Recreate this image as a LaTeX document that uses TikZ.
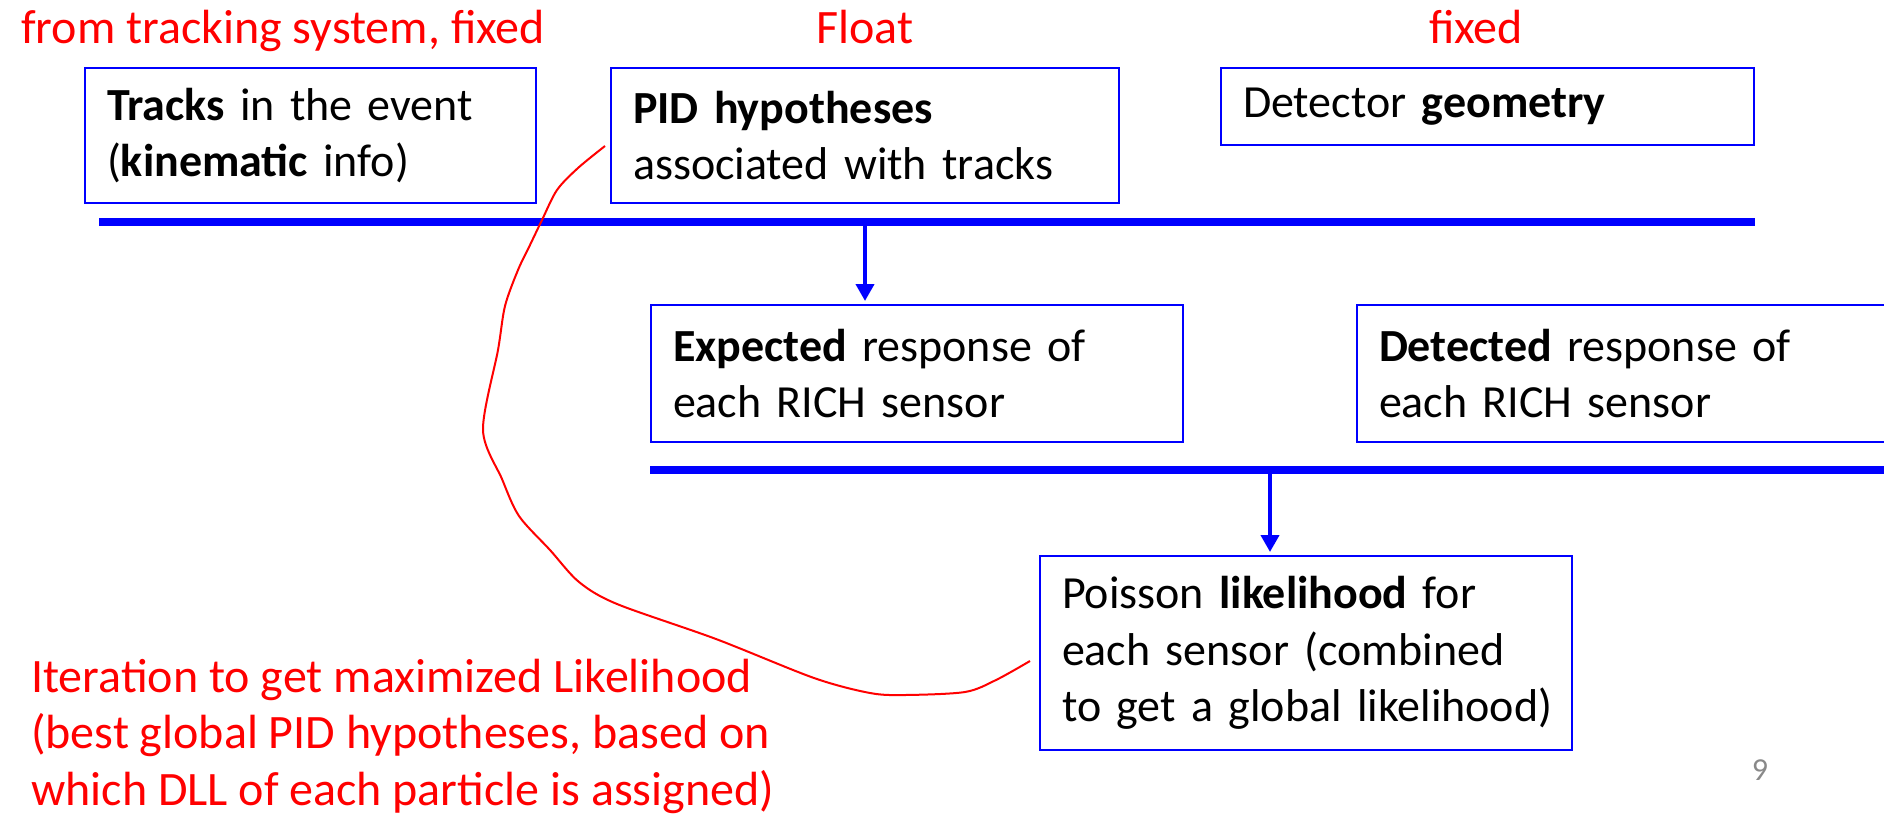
\documentclass[tikz,border=0pt]{standalone}
\usepackage{fontspec}
\setmainfont{Carlito}
\usetikzlibrary{calc,arrows.meta}
\newcommand{\Gap}{22pt}
\definecolor{PageGray}{RGB}{137,137,137}
\tikzset{Box/.style 2 args={
    anchor=north west,
    inner xsep=\Gap,
    inner ysep=0pt,
    text width=#1-2*\Gap,
    minimum height=#2,
    line width=2pt,
    draw=blue,
    align=left
    },
    Note/.style={inner sep=0pt, text=red, align=left, font={\fontsize{48pt}{56.5pt}\selectfont}},
    Bus/.style={line width=8pt, draw=blue},
    Flow/.style={line width=4pt, draw=blue, -{Triangle[width=18pt,length=17pt]}, shorten >=3pt},
    Loop/.style={line width=2pt, draw=red},
    font={\fontsize{46pt}{56.7pt}\selectfont}
}

\begin{document}
\begin{tikzpicture}[x=1pt, y=-1pt]
\clip (0,0) rectangle (1884,817);
\node [Note, anchor=base west] (From) at (21,43) {from tracking system, fixed};
\node [Note, anchor=base] (Float) at (865,43) {Float};
\node [Note, anchor=base] (Fixed) at (1476,43) {fixed};
\node [Box={451pt}{135pt}] (Tracks) at (84,67) {\textbf{Tracks} in the event\\(\textbf{kinematic} info)};
\node [Box={508pt}{135pt}] (PID) at (610,67) {\textbf{PID hypotheses}\\associated with tracks};
\node [Box={533pt}{77pt}] (Geometry) at (1220,67) {Detector \textbf{geometry}};
\node [Box={532pt}{137pt}] (Expected) at (650,304) {\textbf{Expected} response of\\each RICH sensor};
\node [Box={532pt}{137pt}] (Detected) at (1356,304) {\textbf{Detected} response of\\each RICH sensor};
\node [Box={532pt}{194pt}] (Poisson) at (1039,555) {Poisson \textbf{likelihood} for\\each sensor (combined\\\mbox{to get a global likelihood)}};
\node [Note, anchor=west] (Iteration) at (31,736) {Iteration to get maximized Likelihood\\(best global PID hypotheses, based on\\which DLL of each particle is assigned)};
\node [text=PageGray, inner sep=0pt, anchor=base, font={\fontsize{32pt}{38pt}\selectfont}] (Page) at (1760,780) {9};
\coordinate (BusAW) at (99,222);
\coordinate (BusAE) at (Geometry.east |- BusAW);
\coordinate (BusBW) at (Expected.west |- 0,470);
\coordinate (BusBE) at (1900,470);
\coordinate (BusBMid) at (1270,470);
\coordinate (LoopStart) at (605,146);
\coordinate (LoopEnd) at (1030,661);
\draw [Bus] (BusAW) -- (BusAE);
\draw [Bus] (BusBW) -- (BusBE);
\draw [Flow] (PID.south |- BusAW) -- (PID.south |- Expected.north);
\draw [Flow] (BusBMid) -- (BusBMid |- Poisson.north);
\draw [Loop] plot [smooth, tension=0.5] coordinates {(LoopStart) (578,168) (557,190) (542,220) (530,245) (518,270) (505,306) (498,350) (483,430) (502,479) (519,516) (550,550) (579,582) (617,604) (716,639) (814,678) (870,693) (905,695) (965,692) (996,680) (LoopEnd)};
\end{tikzpicture}
\end{document}
